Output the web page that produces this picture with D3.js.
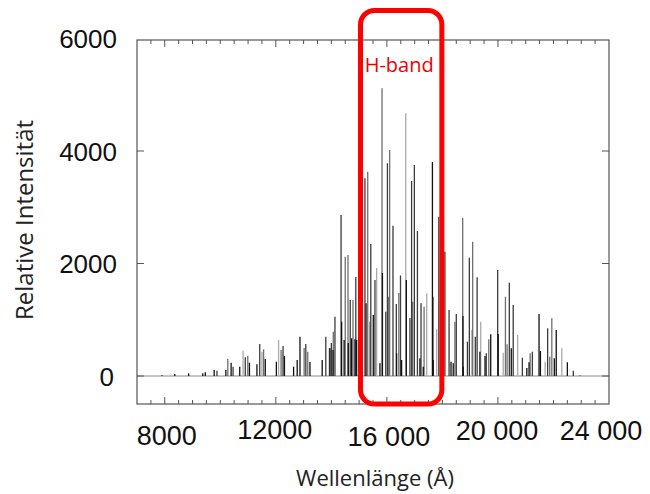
<!DOCTYPE html>
<html>
<head>
<meta charset="utf-8">
<script src="https://cdn.jsdelivr.net/npm/d3@7"></script>
<style>
  body { margin: 0; background: #fff; }
  svg { display: block; }
</style>
</head>
<body>
<div class="chart"></div>
<script>
// spectral lines: wavelength (Å), relative intensity, shade (0 black .. 3 light grey)
var wavelength = [7900, 8360, 8860, 9370, 9460, 9780, 9880, 10200, 10270, 10390, 10460, 10700, 10820, 10900, 10990, 11050,
  11320, 11420, 11500, 11560, 11620, 12020, 12100, 12190, 12260, 12310, 12640, 12770, 12870, 13020, 13080, 13150, 13230,
  13670, 13800, 13930, 14000, 14070, 14130, 14350, 14370, 14460, 14500, 14600, 14610, 14680, 14780, 14880, 14910,
  15210, 15250, 15310, 15390, 15420, 15510, 15570, 15630, 15825, 15840, 15960, 16020, 16050, 16100, 16220, 16340, 16430,
  16490, 16680, 16700, 16830, 16890, 16930, 16990, 17100, 17230, 17340, 17435, 17640, 17660, 17795, 17870, 18090,
  18240, 18450, 18500, 18730, 18740, 18900, 18970, 19060, 19090, 19185, 19250, 19350, 19380, 19535, 19580, 19670, 19740,
  19990, 20010, 20190, 20270, 20330, 20410, 20480, 20550, 20710, 20880, 21040, 21120, 21160, 21240, 21480, 21530,
  21700, 21790, 21865, 21940, 22030, 22100, 22300, 22500, 22715, 22960,
  13950, 14060, 14730, 14850, 15750, 16350, 16530, 17190, 17310, 17670, 18310, 18390, 18750];
var intensity = [12, 36, 48, 48, 66, 107, 94, 107, 302, 236, 165, 165, 450, 332, 361, 236,
  208, 569, 432, 475, 302, 254, 640, 462, 533, 356, 165, 284, 699, 498, 569, 432, 249,
  284, 699, 498, 587, 788, 1054, 2862, 965, 640, 2121, 2151, 587, 1351, 1351, 1760, 640,
  3515, 1293, 3632, 965, 2347, 1085, 1707, 1920, 5115, 1831, 1143, 3782, 1410, 4018, 2672, 1280, 1476,
  1787, 4671, 1707, 1031, 3467, 1321, 3751, 2578, 1293, 1232, 1470, 3805, 1410, 830, 2832, 2210,
  1173, 965, 1102, 2814, 1067, 610, 2103, 818, 2388, 699, 1755, 432, 965, 356, 404, 653, 741,
  1885, 747, 414, 1410, 564, 1659, 492, 1262, 729, 325, 142, 244, 404, 432, 1102, 444,
  254, 848, 343, 1026, 315, 818, 492, 244, 94, 18,
  492, 462, 670, 653, 226, 404, 284, 315, 165, 284, 254, 226, 165];
var shade = [0, 0, 0, 0, 0, 0, 1, 0, 2, 0, 1, 0, 3, 1, 2, 0,
  0, 1, 3, 2, 0, 0, 3, 2, 1, 0, 0, 0, 0, 2, 1, 2, 0,
  0, 1, 2, 1, 2, 1, 1, 0, 0, 2, 2, 0, 1, 2, 1, 0,
  1, 0, 2, 2, 1, 0, 1, 3, 2, 0, 1, 1, 2, 2, 1, 1, 2,
  1, 3, 0, 1, 1, 2, 1, 1, 1, 2, 3, 0, 1, 3, 1, 1,
  1, 2, 1, 2, 0, 1, 1, 3, 2, 1, 1, 0, 3, 0, 1, 2, 0,
  1, 0, 3, 2, 2, 1, 0, 1, 3, 1, 0, 0, 2, 1, 0, 0,
  3, 1, 2, 2, 0, 0, 3, 0, 1, 2,
  0, 0, 0, 0, 0, 0, 0, 0, 0, 0, 0, 0, 0];

var xTickValues = [8000, 12000, 16000, 20000, 24000];
var xTickLabels = ["8000", "12000", "16 000", "20 000", "24 000"];
var yTickValues = [0, 2000, 4000, 6000];
var yTickLabels = ["0", "2000", "4000", "6000"];
var hBand = [15050, 17980];
var hBandLabel = "H-band";
var xTitle = "Wellenlänge (Å)";
var yTitle = "Relative Intensität";

var width = 650;
var height = 494;
var plotLeft = 137, plotRight = 609, plotTop = 40, plotBottom = 404;

var svg = d3.select(".chart").append("svg")
    .attr("width", width)
    .attr("height", height);

var x = d3.scaleLinear().domain([7000, 24000]).range([plotLeft, plotRight]);
var y = d3.scaleLinear().domain([0, 2000]).range([376, 263.5]);

var shadeColor = ["#111", "#3c3c3c", "#6f6f6f", "#a9a9a9"];

var lines = wavelength.map(function(w, i) {
  return { w: w, v: intensity[i], s: shade[i] };
});
// draw light ones first so the dark ones sit on top
lines.sort(function(a, b) { return b.s - a.s; });

// zero line
svg.append("line")
    .attr("x1", plotLeft).attr("x2", plotRight)
    .attr("y1", y(0)).attr("y2", y(0))
    .attr("stroke", "#8a8a8a")
    .attr("stroke-width", 1);

svg.selectAll("line.peak").data(lines).enter().append("line")
    .attr("class", "peak")
    .attr("x1", function(d) { return x(d.w); })
    .attr("x2", function(d) { return x(d.w); })
    .attr("y1", y(0))
    .attr("y2", function(d) { return y(d.v); })
    .attr("stroke", function(d) { return shadeColor[d.s]; })
    .attr("stroke-width", 1.3);

// frame
svg.append("rect")
    .attr("x", plotLeft).attr("y", plotTop)
    .attr("width", plotRight - plotLeft).attr("height", plotBottom - plotTop)
    .attr("fill", "none")
    .attr("stroke", "#555")
    .attr("stroke-width", 1.2);

// x ticks: minor every 500, major on labelled values, top and bottom, pointing inward
var xMinor = d3.range(7500, 24000, 500);
var tickLen = function(d) { return xTickValues.indexOf(d) >= 0 ? 7 : 4; };
svg.selectAll("line.xtick").data(xMinor).enter().append("line")
    .attr("class", "xtick")
    .attr("x1", function(d) { return x(d); })
    .attr("x2", function(d) { return x(d); })
    .attr("y1", plotBottom)
    .attr("y2", function(d) { return plotBottom - tickLen(d); })
    .attr("stroke", "#555");
svg.selectAll("line.xtickTop").data(xMinor).enter().append("line")
    .attr("class", "xtickTop")
    .attr("x1", function(d) { return x(d); })
    .attr("x2", function(d) { return x(d); })
    .attr("y1", plotTop)
    .attr("y2", function(d) { return plotTop + tickLen(d); })
    .attr("stroke", "#555");

// y ticks both sides
var yInner = yTickValues.filter(function(d) { return d < 6000; });
svg.selectAll("line.ytickL").data(yInner).enter().append("line")
    .attr("class", "ytickL")
    .attr("x1", plotLeft).attr("x2", plotLeft + 7)
    .attr("y1", function(d) { return y(d); })
    .attr("y2", function(d) { return y(d); })
    .attr("stroke", "#555");
svg.selectAll("line.ytickR").data(yInner).enter().append("line")
    .attr("class", "ytickR")
    .attr("x1", plotRight).attr("x2", plotRight - 7)
    .attr("y1", function(d) { return y(d); })
    .attr("y2", function(d) { return y(d); })
    .attr("stroke", "#555");

// tick labels
var dyX = [3, -3, 4, -2, -2];
var dxX = [2, -1, 2, -1, -8];
svg.selectAll("text.xlab").data(xTickValues).enter().append("text")
    .attr("class", "xlab")
    .attr("x", function(d, i) { return x(d) + dxX[i]; })
    .attr("y", function(d, i) { return 442 + dyX[i]; })
    .attr("text-anchor", "middle")
    .attr("font-family", "Liberation Sans, Arial, sans-serif")
    .attr("font-size", 27)
    .attr("fill", "#111")
    .text(function(d, i) { return xTickLabels[i]; });

svg.selectAll("text.ylab").data(yTickValues).enter().append("text")
    .attr("class", "ylab")
    .attr("x", function(d) { return d === 0 ? 114 : 117; })
    .attr("y", function(d) { return Math.max(y(d), 36) + 9.5; })
    .attr("text-anchor", "end")
    .attr("font-family", "Liberation Sans, Arial, sans-serif")
    .attr("font-size", 26)
    .attr("fill", "#111")
    .text(function(d, i) { return yTickLabels[i]; });

// axis titles
svg.append("text")
    .attr("x", 375).attr("y", 486)
    .attr("text-anchor", "middle")
    .attr("font-family", "Open Sans, sans-serif")
    .attr("font-size", 22)
    .attr("fill", "#222")
    .text(xTitle);

svg.append("text")
    .attr("transform", "translate(33,220) rotate(-90)")
    .attr("text-anchor", "middle")
    .attr("font-family", "Open Sans, sans-serif")
    .attr("font-size", 24)
    .attr("fill", "#222")
    .text(yTitle);

// H-band marker
svg.append("rect")
    .attr("x", x(hBand[0])).attr("y", 10.5)
    .attr("width", x(hBand[1]) - x(hBand[0]))
    .attr("height", 404 - 10.5)
    .attr("rx", 14).attr("ry", 14)
    .attr("fill", "none")
    .attr("stroke", "#ff0000")
    .attr("stroke-width", 5);

svg.append("text")
    .attr("x", (x(hBand[0]) + x(hBand[1])) / 2 - 2)
    .attr("y", 72)
    .attr("text-anchor", "middle")
    .attr("font-family", "Open Sans, sans-serif")
    .attr("font-size", 20)
    .attr("fill", "#ee0000")
    .text(hBandLabel);
</script>
</body>
</html>
